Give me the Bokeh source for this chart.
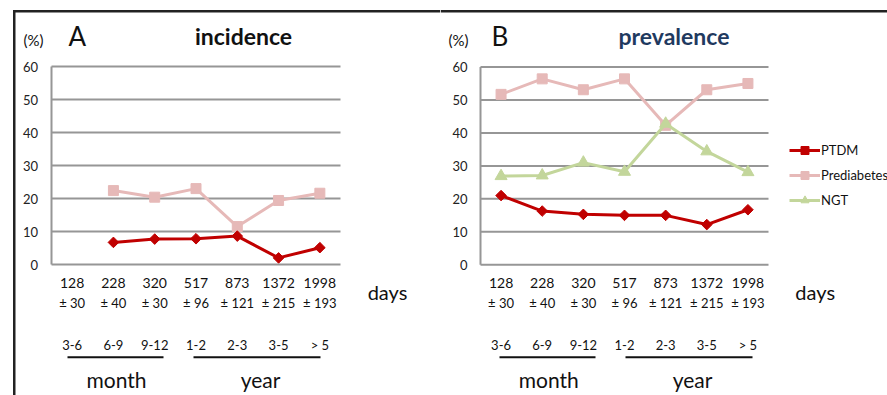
import numpy as np
from bokeh.plotting import figure
from bokeh.models import (Range1d, Label, LabelSet, ColumnDataSource, BoxAnnotation,
                          Legend, LegendItem)
from bokeh.layouts import row
from bokeh.embed import file_html
from bokeh.resources import INLINE
from bokeh.core.properties import value

# ---------------- data ----------------
days = ["128", "228", "320", "517", "873", "1372", "1998"]
days_sd = ["± 30", "± 40", "± 30", "± 96", "± 121", "± 215", "± 193"]
periods = ["3-6", "6-9", "9-12", "1-2", "2-3", "3-5", "> 5"]
yticks = [0, 10, 20, 30, 40, 50, 60]

inc_ptdm = [None, 6.7, 7.7, 7.8, 8.6, 2.0, 5.1]
inc_pre = [None, 22.4, 20.4, 23.0, 11.5, 19.4, 21.6]

prev_ptdm = [21.0, 16.3, 15.3, 15.0, 15.0, 12.2, 16.7]
prev_pre = [51.7, 56.4, 53.1, 56.4, 42.3, 53.1, 55.0]
prev_ngt = [26.9, 27.1, 31.0, 28.2, 42.8, 34.4, 28.1]

# ---------------- style ----------------
FONT = "Lato"
C_PTDM = "#C00000"
C_PRE = "#E6B9B8"
C_NGT = "#C3D69B"
GRID = "#969696"
INK = "#111111"
H = 395
N = len(days)
IDX = list(range(N))


def box(p, l, r, t, b, color):
    p.add_layout(BoxAnnotation(left=l, right=r, top=t, bottom=b,
                               left_units="canvas", right_units="canvas",
                               top_units="canvas", bottom_units="canvas",
                               fill_color=color, fill_alpha=1, line_color=None))


def make_panel(W, fl, fr, ft, fb, cfg):
    ux = (fr - fl) / N
    x0 = -0.5 - fl / ux
    uy = (fb - ft) / max(yticks)
    y1 = max(yticks) + ft / uy
    p = figure(width=W, height=H, x_range=Range1d(x0, x0 + W / ux),
               y_range=Range1d(y1 - H / uy, y1),
               x_axis_location=None, y_axis_location=None,
               output_backend="svg", toolbar_location=None, min_border=0)
    p.outline_line_color = None
    p.background_fill_color = "white"
    p.border_fill_color = "white"
    p.xgrid.visible = False
    p.ygrid.visible = False

    lo, hi = -0.5, N - 0.5
    # grid lines + axes
    p.segment(x0=lo, x1=hi, y0=yticks, y1=yticks, line_color=GRID, line_width=2)
    p.segment(x0=lo, x1=lo, y0=min(yticks), y1=max(yticks), line_color=GRID, line_width=2)
    # y tick labels
    p.text(x=lo, y=yticks, text=[str(t) for t in yticks], x_offset=cfg["ytick_off"],
           text_align="right", text_baseline="middle", text_font=value(FONT),
           text_font_size="13px", text_color="#222222")

    # x label rows
    src = ColumnDataSource(dict(x=IDX, t1=days, t2=days_sd, t3=periods))
    for col, yy, fs in (("t1", 282, "14px"), ("t2", 302, "13px"), ("t3", 344, "13px")):
        p.add_layout(LabelSet(x="x", y=yy, y_units="canvas", text=col, source=src,
                              text_align="center", text_baseline="middle",
                              text_font=value(FONT), text_font_size=fs,
                              text_color=INK))

    def lab(x, y, text, size, style="normal", color=INK, align="left"):
        p.add_layout(Label(x=x, y=y, x_units="canvas", y_units="canvas", text=text,
                           text_font=FONT, text_font_size=size, text_font_style=style,
                           text_color=color, text_align=align, text_baseline="middle"))

    lab(cfg["pct_x"], 39, "(%)", "15px")
    lab(cfg["letter_x"], 35, cfg["letter"], "26px")
    lab(cfg["title_x"], 35, cfg["title"], "23px", "bold", cfg["title_color"], "center")
    lab(cfg["days_x"], 291, "days", "20px", align="center")
    lab(cfg["month_x"], 379, "month", "21px", align="center")
    lab(cfg["year_x"], 379, "year", "21px", align="center")

    for l, r in cfg["unders"]:
        box(p, l, r, 355.7, 357.7, INK)
    return p


def series(p, vals, color, marker, size, angle=0.0):
    y = np.array(vals, dtype=float)
    src = ColumnDataSource(dict(x=IDX, y=y))
    ln = p.line("x", "y", source=src, line_color=color, line_width=3)
    sc = p.scatter("x", "y", source=src, marker=marker, size=size, angle=angle,
                   fill_color=color, line_color=color)
    return ln, sc


W_A, W_B = 440, 447

pA = make_panel(W_A, 51, 340, 66, 264, dict(
    ytick_off=-13.5, pct_x=23, letter_x=68, letter="A", title_x=243,
    title="incidence", title_color=INK, days_x=387, month_x=116, year_x=260,
    unders=[(67, 163), (193, 320)]))
series(pA, inc_pre, C_PRE, "square", 10)
series(pA, inc_ptdm, C_PTDM, "square", 7.5, angle=np.pi / 4)
box(pA, 12.5, W_A, 9.5, 12, "#222222")
box(pA, 12.5, 15, 9.5, H, "#222222")

pB = make_panel(W_B, 40, 328, 66.5, 264.3, dict(
    ytick_off=-13, pct_x=8, letter_x=51, letter="B", title_x=233.5,
    title="prevalence", title_color="#1F3A5F", days_x=374.7, month_x=108.3, year_x=252,
    unders=[(59, 155), (185, 312)]))
r_pre = series(pB, prev_pre, C_PRE, "square", 10)
r_ngt = series(pB, prev_ngt, C_NGT, "triangle", 12)
r_ptdm = series(pB, prev_ptdm, C_PTDM, "square", 7.5, angle=np.pi / 4)
box(pB, 0, W_B, 9.5, 12, "#222222")

legend = Legend(items=[LegendItem(label="PTDM", renderers=list(r_ptdm)),
                       LegendItem(label="Prediabetes", renderers=list(r_pre)),
                       LegendItem(label="NGT", renderers=list(r_ngt))],
                location=(349, H - 140 - 70), orientation="vertical",
                border_line_color=None, background_fill_alpha=0,
                padding=0, margin=0, spacing=5, glyph_width=31, glyph_height=20,
                label_height=20, label_standoff=1, label_text_font=FONT,
                label_text_font_size="13px", label_text_color=INK)
pB.add_layout(legend)

layout = row(pA, pB)
open("out.html", "w").write(file_html(layout, INLINE))
